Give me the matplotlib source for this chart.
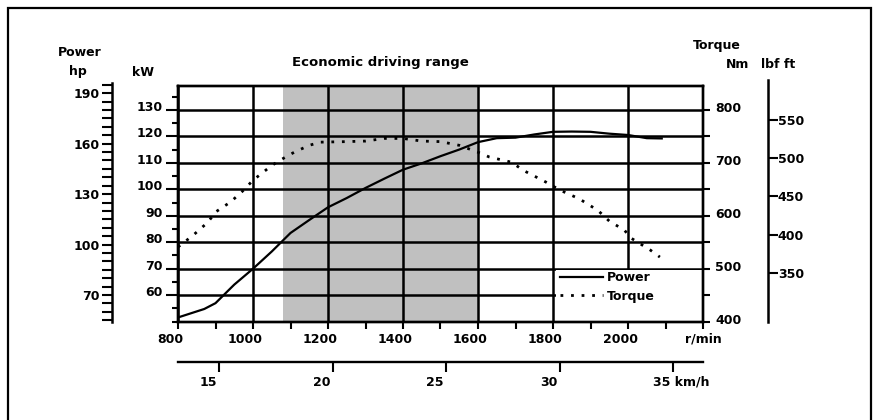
import matplotlib

matplotlib.use("Agg")
import matplotlib.pyplot as plt
from matplotlib.patches import Rectangle
from matplotlib.ticker import MultipleLocator
from matplotlib.transforms import ScaledTranslation, blended_transform_factory

# valores
rpm_power = [800, 870, 900, 950, 1000, 1050, 1100, 1150, 1200, 1250, 1300, 1350, 1400,
             1450, 1500, 1550, 1600, 1650, 1700, 1750, 1800, 1850, 1900, 1950, 2000, 2050, 2090]
power_kw = [51.6, 54.8, 57.0, 64.0, 70.0, 76.5, 83.5, 88.4, 93.2, 96.7, 100.5, 104.0, 107.4,
            109.8, 112.5, 115.0, 117.8, 119.3, 119.5, 120.7, 121.7, 121.8, 121.7, 121.0, 120.5, 119.3, 119.2]

rpm_torque = [800, 840, 880, 900, 940, 970, 1000, 1050, 1080, 1110, 1150, 1180, 1250, 1300,
              1350, 1400, 1450, 1500, 1550, 1600, 1630, 1690, 1720, 1780, 1820, 1870, 1920,
              1950, 1990, 2010, 2060, 2085]
torque_nm = [541, 563, 588, 607, 626, 645, 667, 695, 708, 720, 733, 739, 740, 741,
             746, 746, 741, 740, 733, 720, 711, 701, 686, 664, 648, 632, 610,
             590, 573, 557, 535, 522]

rpm_ticks = [800, 1000, 1200, 1400, 1600, 1800, 2000, 2200]
rpm_labels = ["800", "1000", "1200", "1400", "1600", "1800", "2000", "r/min"]
kw_ticks = [60, 70, 80, 90, 100, 110, 120, 130]
nm_ticks = [400, 500, 600, 700, 800]
hp_ticks = [70, 100, 130, 160, 190]
lbf_ticks = [350, 400, 450, 500, 550]
kmh_ticks = [15, 20, 25, 30, 35]
kmh_labels = ["15", "20", "25", "30", "35 km/h"]
KMH_POR_RPM = 0.0165
faixa_economica = (1080, 1600)

W, H = 876, 420
FONTE = dict(family="DejaVu Sans", weight="bold", size=9)
plt.rcParams["font.family"] = "DejaVu Sans"
plt.rcParams["font.weight"] = "bold"
plt.rcParams["font.size"] = 9


def caixa(x0, y0, x1, y1):
    """caixa em pixels (origem no topo) -> [left, bottom, width, height] da figura"""
    return [x0 / W, 1 - y1 / H, (x1 - x0) / W, (y1 - y0) / H]


def desloca(label, dx_px, fig, dy_px=0):
    label.set_transform(label.get_transform()
                        + ScaledTranslation(dx_px / 100, dy_px / 100, fig.dpi_scale_trans))


fig = plt.figure(figsize=(8.76, 4.2), dpi=100)

# eixo principal: rpm x kW
ax = fig.add_axes(caixa(178, 86, 703, 321.7))
ax.set_axisbelow(True)
ax.set_xlim(800, 2200)
ax.set_ylim(50, 139)
for sp in ax.spines.values():
    sp.set_linewidth(1.7)
ax.set_xticks(rpm_ticks, labels=rpm_labels)
ax.xaxis.set_minor_locator(MultipleLocator(100))
ax.set_yticks(kw_ticks)
ax.yaxis.set_minor_locator(MultipleLocator(5))
ax.tick_params(axis="x", which="both", direction="out", length=5, width=1.5, pad=3)
ax.tick_params(axis="y", which="major", direction="out", length=9, width=1.5, pad=2)
ax.tick_params(axis="y", which="minor", direction="out", length=4.5, width=1.5)
ax.grid(True, which="major", color="black", linewidth=1.8)
for lbl in ax.get_xticklabels()[:-1]:
    desloca(lbl, -8, fig)
for lbl in ax.get_yticklabels():
    desloca(lbl, 0, fig, 4)

ax.axvspan(*faixa_economica, color="#c0c0c0", lw=0, zorder=0.2)
ax.add_patch(Rectangle((1808, 50), 388, 19.6, facecolor="white", edgecolor="none", zorder=1))
ln_power, = ax.plot(rpm_power, power_kw, color="black", lw=1.6, zorder=2, label="Power")

trans = blended_transform_factory(ax.transData, ax.transAxes)
ax.text(sum(faixa_economica) / 2, 1.098, "Economic driving range", transform=trans,
        ha="center", va="center", fontsize=9.5, fontweight="bold")

# torque em Nm no lado direito
axr = ax.twinx()
axr.set_ylim(400, 845)
axr.set_yticks(nm_ticks)
axr.yaxis.set_minor_locator(MultipleLocator(50))
axr.tick_params(axis="y", which="both", direction="out", length=5, width=1.5, pad=4)
for sp in axr.spines.values():
    sp.set_linewidth(1.7)
for lbl in axr.get_yticklabels():
    desloca(lbl, 0, fig, 3)
ln_torque, = axr.plot(rpm_torque, torque_nm, color="black", lw=2.0,
                      linestyle=(0, (1, 2.8)), label="Torque")
axr.legend(handles=[ln_power, ln_torque], loc="upper left", bbox_to_anchor=(0.728, 0.215),
           frameon=False, handlelength=3.4, handletextpad=0.3, labelspacing=0.45,
           borderpad=0, borderaxespad=0, prop=FONTE)

# km/h abaixo do eixo de rpm
sec = ax.secondary_xaxis(-0.17, functions=(lambda r: r * KMH_POR_RPM, lambda v: v / KMH_POR_RPM))
sec.set_xticks(kmh_ticks, labels=kmh_labels)
sec.spines["bottom"].set_linewidth(1.7)
sec.tick_params(axis="x", direction="out", length=7, width=1.5, pad=3)
rotulos = sec.get_xticklabels()
for lbl in rotulos[:-1]:
    desloca(lbl, -11, fig)
rotulos[-1].set_horizontalalignment("left")
desloca(rotulos[-1], -20, fig)

# hp à esquerda
axh = fig.add_axes(caixa(112, 83, 113, 322))
axh.set_ylim(54, 196)
axh.set_yticks(hp_ticks)
axh.yaxis.set_minor_locator(MultipleLocator(5))
axh.set_xticks([])
axh.patch.set_visible(False)
for nome, sp in axh.spines.items():
    sp.set_visible(nome == "left")
    sp.set_linewidth(1.8)
axh.tick_params(axis="y", which="both", direction="out", length=7, width=1.5, pad=2)

# lbf ft à direita
axl = fig.add_axes(caixa(767, 80, 768, 321.7))
axl.set_ylim(286, 602)
axl.yaxis.tick_right()
axl.set_yticks(lbf_ticks)
axl.set_xticks([])
axl.patch.set_visible(False)
for nome, sp in axl.spines.items():
    sp.set_visible(nome == "right")
    sp.set_linewidth(1.8)
axl.tick_params(axis="y", direction="out", length=7, width=1.5, pad=0)

# títulos dos eixos
for texto, x, y in [("Power", 80, 53), ("hp", 78, 72), ("kW", 143, 72),
                    ("Torque", 717, 45), ("Nm", 738, 65), ("lbf ft", 778, 65)]:
    fig.text(x / W, 1 - y / H, texto, ha="center", va="center", **FONTE)

# moldura externa
fig.add_artist(Rectangle((8 / W, -0.02), (871 - 8) / W, 1.02 - 8 / H, transform=fig.transFigure,
                         fill=False, edgecolor="black", linewidth=1.6))

fig.savefig("out.png", dpi=100)
plt.close(fig)
